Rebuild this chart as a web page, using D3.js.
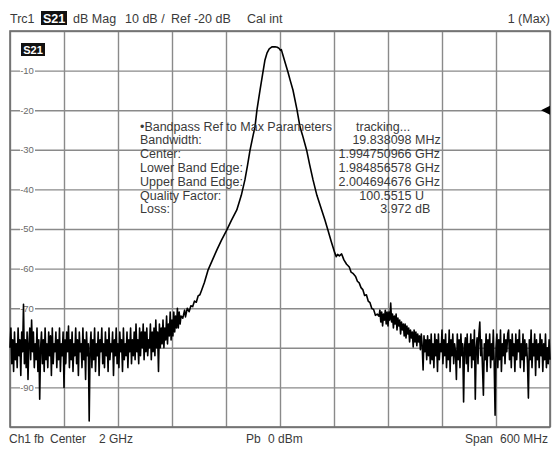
<!DOCTYPE html>
<html>
<head>
<meta charset="utf-8">
<script src="https://cdn.jsdelivr.net/npm/d3@7"></script>
<style>
  body { margin: 0; background: #fff; }
  svg { display: block; font-family: "Liberation Sans", Arial, sans-serif; }
</style>
</head>
<body>
<svg id="vna" width="552" height="450"></svg>
<script>
"use strict";

// sweep: 1.7 GHz .. 2.3 GHz (MHz), 10 dB / div, top 0 dB
var freqTicks = [1700, 1760, 1820, 1880, 1940, 2000, 2060, 2120, 2180, 2240, 2300];
var dbTicks = [0, -10, -20, -30, -40, -50, -60, -70, -80, -90, -100];
var dbLabels = [-10, -20, -30, -40, -50, -60, -70, -80, -90];

// noise floor below the passband, one sweep point per MHz from 1700 MHz
var floorStep = 1;
var lowFloorStart = 1700;
var lowFloorDb = [
  -80, -75, -84, -78, -86, -76, -83, -79, -85, -75,
  -82, -78, -87, -76, -81, -69, -84, -78, -85, -76,
  -88, -79, -75, -83, -73, -81, -76, -85, -79, -83,
  -75, -86, -78, -93, -80, -76, -84, -78, -86, -75,
  -83, -79, -85, -76, -82, -77, -87, -75, -84, -79,
  -81, -76, -85, -78, -83, -75, -86, -79, -82, -76,
  -90, -78, -84, -76, -81, -74.5, -85, -78, -83, -76,
  -86, -79, -82, -75, -84, -78, -87, -76, -81, -79,
  -85, -75, -83, -78, -88, -76, -82, -79, -98.5, -80,
  -76, -85, -78, -83, -75, -86, -79, -82, -76, -87,
  -78, -81, -75, -84, -79, -85, -76, -82, -78, -86,
  -75, -83, -79, -81, -76, -87, -78, -82, -75, -84,
  -79, -85, -76, -81, -78, -86, -75, -83, -79, -82,
  -76, -85, -78, -81, -75, -84, -78, -82, -76, -83,
  -74, -81, -78, -84, -75, -82, -76, -80, -74, -83,
  -76, -81, -75, -82, -78, -80, -74, -83, -76, -81,
  -75, -82, -73, -80, -76, -86, -74, -80, -75, -79,
  -73, -80, -75, -78, -72, -79, -74, -77, -71, -78,
  -73, -77, -71, -76, -72, -75, -70, -75, -71, -74, -72
];

// filter response [MHz, dB]
var skirt = [
  [1892, -72.5], [1894, -70.5], [1895, -72.2], [1897, -70.0], [1899, -70.9],
  [1901, -69.4], [1903, -69.6], [1905, -68.2], [1907, -68.5], [1909, -66.9],
  [1911, -66.6], [1913, -65.4], [1916, -63.5], [1920, -60.4], [1925, -57.8],
  [1930, -55.2], [1935, -52.8], [1940.8, -50.3], [1946, -47.8], [1952, -45.2],
  [1957, -41.5], [1961, -37.6], [1964, -33.8], [1966.7, -30.1], [1970, -26.5],
  [1972.2, -24.2], [1974.4, -19.9], [1977.8, -14.9], [1981.1, -10.3], [1983.3, -7.3],
  [1985.5, -5.6], [1988, -4.5], [1991, -4.0], [1994.5, -3.97], [1997, -4.1],
  [1999, -4.4], [2000.5, -4.9], [2001.5, -4.7], [2003.3, -6.1], [2006, -8.2],
  [2008.9, -10.4], [2011.5, -12.6], [2014.4, -14.9], [2018.9, -19.9], [2022.2, -24.2],
  [2025, -26.3], [2029.6, -30.1], [2033, -33.8], [2036.7, -37.6], [2041, -41.5],
  [2046.3, -45.2], [2050, -47.8], [2053.3, -50.3], [2057, -53.2], [2061, -56.1],
  [2062.5, -57.0], [2064, -56.4], [2066, -56.8], [2068.5, -56.3], [2071, -57.8],
  [2074, -58.9], [2077, -59.6], [2079, -60.9], [2081, -61.2], [2084, -62.0],
  [2086, -63.2], [2088, -63.6], [2090, -64.8], [2092, -65.3], [2094, -66.8],
  [2096, -66.6], [2098, -68.2], [2100, -68.6], [2102, -70.1], [2104, -70.3],
  [2106, -71.8], [2108, -71.5]
];

// noise floor above the passband, one point per MHz from 2110 MHz
var highFloorStart = 2110;
var highFloorDb = [
  -72, -70.5, -73.5, -71, -74.5, -71.5, -73, -70.5, -74, -71,
  -74.5, -71, -73, -68.7, -73.5, -71.5, -75, -72, -74, -71.5,
  -75.5, -72.5, -74.5, -73, -76.5, -73.5, -75.5, -74, -77, -74,
  -77.5, -74.5, -76.5, -75, -78.5, -75.5, -77.5, -76, -79.8, -75.5,
  -78.5, -76, -79.5, -76.5, -78.5, -77, -80.5, -76.5, -79.5, -85.6,
  -77, -81, -78, -83, -77, -82, -78, -84, -76.5, -83,
  -79, -85, -76.5, -82, -78, -86, -76.5, -83, -79, -81,
  -75.5, -84, -78, -82, -76.5, -85, -79, -83, -75.5, -86,
  -78, -82, -76.5, -84, -79, -81, -88, -76.5, -83, -78,
  -85, -76.5, -82, -79, -93.7, -80, -77.5, -84, -76.5, -86,
  -79, -82, -76.5, -85, -78, -83, -75.5, -93, -80, -77.5,
  -84, -76.5, -73.5, -82, -78, -85, -92, -79, -83, -76.5,
  -86, -78, -82, -76.5, -85, -79, -83, -75.5, -84, -97,
  -80, -76.5, -85, -78, -83, -75.5, -86, -79, -82, -76.5,
  -84, -78, -81, -76.5, -75.5, -83, -78, -85, -76.5, -82,
  -79, -86, -76.5, -83, -78, -81, -75.5, -85, -79, -83,
  -76.5, -86, -78, -82, -79, -84, -92.7, -78, -83, -75.5,
  -85, -79, -82, -76.5, -87, -78, -83, -79, -85, -76.5,
  -82, -78, -86, -79, -83, -76.5, -85, -80, -84, -78, -83
];

var paramNames = ["Bandwidth:", "Center:", "Lower Band Edge:", "Upper Band Edge:", "Quality Factor:", "Loss:"];
var paramValues = ["19.838098", "1.994750966", "1.984856578", "2.004694676", "100.5515", "3.972"];
var paramUnits = ["MHz", "GHz", "GHz", "GHz", "U", "dB"];

var svg = d3.select("#vna");
var plotL = 10, plotR = 550, plotT = 31, plotB = 427;

var x = d3.scaleLinear().domain([1700, 2300]).range([plotL, plotR]);
var y = d3.scaleLinear().domain([0, -100]).range([plotT, plotB]);

// grid
var grid = svg.append("g");
grid.append("g")
    .attr("transform", "translate(0," + plotT + ")")
    .call(d3.axisBottom(x).tickValues(freqTicks).tickSize(plotB - plotT).tickFormat(""))
    .call(function(g) { g.select(".domain").remove(); });
grid.append("g")
    .attr("transform", "translate(" + plotL + ",0)")
    .call(d3.axisRight(y).tickValues(dbTicks).tickSize(plotR - plotL).tickFormat(""))
    .call(function(g) { g.select(".domain").remove(); });
grid.selectAll(".tick line")
    .attr("stroke", "#8a8a8a")
    .attr("stroke-width", 1.4);

svg.append("rect")
    .attr("x", plotL).attr("y", plotT)
    .attr("width", plotR - plotL).attr("height", plotB - plotT)
    .attr("fill", "none")
    .attr("stroke", "#6e6e6e")
    .attr("stroke-width", 1.6);

// level labels sit on the grid lines
var lab = svg.append("g").selectAll("g")
    .data(dbLabels)
  .enter().append("g")
    .attr("transform", function(d) { return "translate(27," + y(d) + ")"; });
lab.append("rect")
    .attr("x", -7).attr("y", -4).attr("width", 15).attr("height", 8)
    .attr("fill", "#fff");
lab.append("text")
    .attr("text-anchor", "middle")
    .attr("dy", "0.35em")
    .attr("font-size", 9.5)
    .attr("fill", "#6a6a6a")
    .text(function(d) { return d; });

// trace
var trace = [];
lowFloorDb.forEach(function(v, i) { trace.push([lowFloorStart + i * floorStep, v]); });
skirt.forEach(function(p) { trace.push(p); });
highFloorDb.forEach(function(v, i) { trace.push([highFloorStart + i * floorStep, v]); });

var line = d3.line()
    .x(function(d) { return x(d[0]); })
    .y(function(d) { return y(d[1]); });

svg.append("path")
    .datum(trace)
    .attr("fill", "none")
    .attr("stroke", "#000")
    .attr("stroke-width", 1.6)
    .attr("stroke-linejoin", "round")
    .attr("d", line);

// reference level marker at Ref -20 dB
svg.append("path")
    .attr("d", "M" + (plotR - 9) + "," + y(-20) + "L" + plotR + "," + (y(-20) - 4.5) + "L" + plotR + "," + (y(-20) + 4.5) + "Z")
    .attr("fill", "#000");

// S21 tag inside the diagram
svg.append("rect").attr("x", 21).attr("y", 43).attr("width", 24).attr("height", 13).attr("fill", "#111");
svg.append("text").attr("x", 33).attr("y", 53.5).attr("text-anchor", "middle")
    .attr("font-size", 11).attr("font-weight", "bold").attr("fill", "#fff").text("S21");

var txt = "#3a3a3a";
function put(xp, yp, s, anchor, size) {
  return svg.append("text")
      .attr("x", xp).attr("y", yp)
      .attr("text-anchor", anchor || "start")
      .attr("font-size", size || 12.5)
      .attr("fill", txt)
      .text(s);
}

// header
put(10, 23, "Trc1");
svg.append("rect").attr("x", 41).attr("y", 11).attr("width", 26).attr("height", 14).attr("fill", "#111");
svg.append("text").attr("x", 54).attr("y", 23).attr("text-anchor", "middle")
    .attr("font-size", 12.5).attr("font-weight", "bold").attr("fill", "#fff").text("S21");
put(73, 23, "dB Mag");
put(125, 23, "10 dB /");
put(171, 23, "Ref -20 dB");
put(247, 23, "Cal int");
put(550, 23, "1 (Max)", "end");

// footer
put(9, 443, "Ch1", "start", 12);
put(34, 443, "fb", "start", 12);
put(50, 443, "Center", "start", 12);
put(99, 443, "2 GHz", "start", 12);
put(246, 443, "Pb", "start", 12);
put(268, 443, "0 dBm", "start", 12);
put(465, 443, "Span", "start", 12);
put(548, 443, "600 MHz", "end", 12);

// marker function results
put(140, 130.5, "\u2022Bandpass Ref to Max Parameters");
put(356, 130.5, "tracking...");
paramNames.forEach(function(n, i) {
  var yy = 144.3 + i * 13.8;
  put(140, yy, n);
  put(411.5, yy, paramValues[i], "end");
  put(415, yy, paramUnits[i]);
});
</script>
</body>
</html>
